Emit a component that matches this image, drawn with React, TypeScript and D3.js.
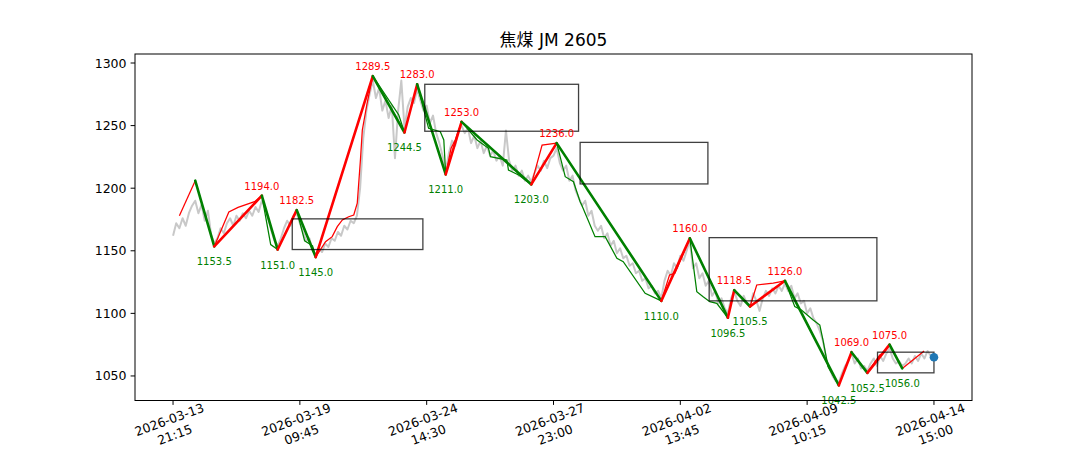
import React from "react";
import * as d3 from "d3";

// ---------- data ----------
const closePrices: number[] = [
  1162, 1172, 1168, 1176, 1170, 1180, 1186, 1190,
  1180, 1187, 1174, 1182, 1163, 1156,
  1160, 1168, 1164, 1172, 1176, 1170, 1178, 1174, 1180, 1176, 1182, 1178, 1185, 1181, 1190,
  1184, 1176, 1166, 1158, 1154,
  1160, 1168, 1174, 1170, 1178, 1180,
  1172, 1165, 1158, 1160, 1150, 1147,
  1152, 1149, 1156, 1153, 1160, 1158, 1165, 1162, 1170, 1167, 1174, 1172, 1178,
  1200, 1240, 1262, 1275, 1286,
  1272, 1280, 1262, 1270, 1256, 1266, 1224, 1262, 1286,
  1248, 1265, 1272, 1268, 1279,
  1270, 1262, 1266, 1252, 1258, 1244, 1236, 1226, 1214,
  1228, 1238, 1234, 1246, 1250,
  1244, 1248, 1236, 1242, 1232, 1238, 1228, 1234, 1226, 1230, 1222, 1226, 1218, 1246, 1222, 1214, 1218, 1210, 1214, 1206, 1210, 1205,
  1212, 1218, 1214, 1222, 1216, 1224, 1226, 1232,
  1220, 1214, 1218, 1206, 1210, 1198, 1192, 1186, 1190, 1178, 1182, 1170, 1166, 1170, 1160, 1164, 1154, 1158, 1148, 1152, 1144, 1146, 1138, 1140, 1132, 1134, 1126, 1128, 1120, 1122, 1116, 1118, 1112,
  1126, 1134, 1130, 1140, 1136, 1146, 1142, 1150, 1158,
  1136, 1140, 1128, 1132, 1122, 1126, 1114, 1118, 1108, 1112, 1104, 1100,
  1112, 1118, 1110, 1106, 1114, 1108, 1106, 1116, 1110, 1102, 1112, 1118, 1114, 1120, 1116, 1122, 1118, 1124,
  1118, 1122, 1112, 1116, 1108, 1110, 1100, 1104, 1096, 1092, 1086, 1078, 1064, 1056, 1050, 1046, 1045,
  1052, 1058, 1062, 1068, 1060, 1064, 1056, 1058, 1054, 1060, 1064, 1058, 1066, 1062, 1068, 1072, 1064, 1060, 1062, 1058, 1060, 1064, 1060, 1066, 1062, 1068, 1064, 1070, 1066, 1065,
];

const pivotIdx: number[] = [7, 13, 28, 33, 39, 45, 63, 73, 77, 86, 91, 113, 121, 154, 163, 175, 177, 182, 193, 210, 214, 219, 226, 230];
const pivotVal: number[] = [1206, 1153.5, 1194, 1151, 1182.5, 1145, 1289.5, 1244.5, 1283, 1211, 1253, 1203, 1236, 1110, 1160, 1096.5, 1118.5, 1105.5, 1126, 1042.5, 1069, 1052.5, 1075, 1056];

const thinUp: [number, number][][] = [
  [[2, 1178], [7, 1206]],
  [[13, 1153.5], [17.6, 1181], [20.5, 1184.7], [25.7, 1189.2], [28, 1194]],
  [[45, 1145], [48.1, 1157.3], [50.2, 1161.3], [51.8, 1169.3], [53.4, 1174.6], [55.4, 1177.2], [57, 1178.6], [58.1, 1188], [59.1, 1222.5], [59.7, 1246.5], [61.2, 1267.8], [63, 1289.5]],
  [[86, 1211], [87.7, 1231.9], [89, 1238.5], [91, 1253]],
  [[113, 1203], [116.4, 1234.5], [121, 1236]],
  [[154, 1110], [156.6, 1130.7], [158.3, 1132], [163, 1160]],
  [[182, 1105.5], [184.1, 1122.7], [189.3, 1124.1], [193, 1126]],
  [[219, 1052.5], [222.9, 1066.8], [224.1, 1068.4], [226, 1075]],
  [[230, 1056], [236.9, 1070]],
];

const thinDown: [number, number][][] = [
  [[28, 1194], [30.8, 1155], [33, 1151]],
  [[39, 1182.5], [41.5, 1158], [44, 1154], [45, 1145]],
  [[63, 1289.5], [71.2, 1258.5], [73, 1244.5]],
  [[77, 1283], [80.6, 1247.8], [84.3, 1245.1], [85.4, 1238.5], [86, 1211]],
  [[91, 1253], [95.9, 1238.5], [99.5, 1231.9], [100.1, 1225.2], [105.3, 1222.5], [105.8, 1214.5], [109, 1210.5], [113, 1203]],
  [[121, 1236], [123.7, 1209.2], [126.3, 1205.2], [128.4, 1189.2], [128.9, 1186.6], [133.1, 1161.3], [136.3, 1161.3], [140, 1144], [142, 1141.3], [148.9, 1116], [154, 1110]],
  [[163, 1160], [165.2, 1117.3], [167.2, 1113.3], [169.3, 1109.3], [171.5, 1108], [175, 1096.5]],
  [[193, 1126], [196.1, 1105.4], [198.2, 1102.7], [201.9, 1094.7], [204, 1090.7], [205, 1078.7], [206.6, 1057.4], [210, 1042.5]],
];

// boxes: [startIdx, endIdx, low, high]
const boxes: [number, number, number, number][] = [
  [37.6, 78.8, 1151, 1175.5],
  [79.4, 127.9, 1245.5, 1283],
  [128.4, 168.7, 1203.4, 1236.6],
  [169.1, 222, 1110, 1160.5],
  [222.2, 240, 1052.5, 1069],
];

const xTickIdx: number[] = [0, 40, 80, 120, 160, 200, 240];
const xTickLabels: string[][] = [
  ["2026-03-13", "21:15"],
  ["2026-03-19", "09:45"],
  ["2026-03-24", "14:30"],
  ["2026-03-27", "23:00"],
  ["2026-04-02", "13:45"],
  ["2026-04-09", "10:15"],
  ["2026-04-14", "15:00"],
];
const yTicks: number[] = [1050, 1100, 1150, 1200, 1250, 1300];
const title = "焦煤 JM 2605";

// ---------- chart ----------
const W = 1080;
const H = 450;
const L = 135, R = 972, T = 54, B = 400.5;
const FONT = "'DejaVu Sans', 'Noto Sans CJK SC', sans-serif";
const RED = "#ff0000";
const GREEN = "#008000";

export default function App() {
  const n = closePrices.length - 1;
  const pad = n * 0.05;
  const x = d3.scaleLinear().domain([-pad, n + pad]).range([L, R]);
  const y = d3.scaleLinear().domain([1030.4, 1307.2]).range([B, T]);

  const line = d3
    .line<[number, number]>()
    .x((d) => x(d[0]))
    .y((d) => y(d[1]));

  const closePts: [number, number][] = closePrices.map((v, i) => [i, v]);

  const thickSegs: { pts: [number, number][]; up: boolean }[] = [];
  for (let i = 1; i < pivotIdx.length; i++) {
    thickSegs.push({
      pts: [
        [pivotIdx[i - 1], pivotVal[i - 1]],
        [pivotIdx[i], pivotVal[i]],
      ],
      up: pivotVal[i] > pivotVal[i - 1],
    });
  }

  const last = closePts[closePts.length - 1];

  return (
    <svg
      width={W}
      height={H}
      style={{ position: "absolute", left: 0, top: 0, background: "#fff" }}
      fontFamily={FONT}
    >
      <rect x={0} y={0} width={W} height={H} fill="#fff" />
      {/* close line */}
      <path d={line(closePts) || ""} fill="none" stroke="#c8c8c8" strokeWidth={2} strokeLinejoin="round" />
      {/* thin lines */}
      {thinUp.map((s, i) => (
        <path key={"tu" + i} d={line(s) || ""} fill="none" stroke={RED} strokeWidth={1.25} />
      ))}
      {thinDown.map((s, i) => (
        <path key={"td" + i} d={line(s) || ""} fill="none" stroke={GREEN} strokeWidth={1.25} />
      ))}
      {/* thick zigzag */}
      {thickSegs.map((s, i) => (
        <path
          key={"tk" + i}
          d={line(s.pts) || ""}
          fill="none"
          stroke={s.up ? RED : GREEN}
          strokeWidth={2.6}
          strokeLinecap="round"
        />
      ))}
      {/* boxes */}
      {boxes.map((b, i) => (
        <rect
          key={"bx" + i}
          x={x(b[0])}
          y={y(b[3])}
          width={x(b[1]) - x(b[0])}
          height={y(b[2]) - y(b[3])}
          fill="none"
          stroke="#000"
          strokeOpacity={0.75}
          strokeWidth={1.3}
        />
      ))}
      {/* pivot labels */}
      {pivotIdx.map((p, i) => {
        if (i === 0) return null;
        const isPeak =
          (i > 0 && pivotVal[i] > pivotVal[i - 1]) ||
          (i < pivotIdx.length - 1 && pivotVal[i] > pivotVal[i + 1]);
        return (
          <text
            key={"lb" + i}
            x={x(p)}
            y={isPeak ? y(pivotVal[i]) - 6 : y(pivotVal[i]) + 19}
            textAnchor="middle"
            fontSize={10}
            fill={isPeak ? RED : GREEN}
          >
            {pivotVal[i].toFixed(1)}
          </text>
        );
      })}
      {/* last point */}
      <circle cx={x(last[0])} cy={y(last[1])} r={4.3} fill="#1f77b4" />
      {/* spines */}
      <rect x={L} y={T} width={R - L} height={B - T} fill="none" stroke="#000" strokeWidth={1} />
      {/* y ticks */}
      {yTicks.map((t) => (
        <g key={"yt" + t}>
          <line x1={L - 4.4} x2={L} y1={y(t)} y2={y(t)} stroke="#000" strokeWidth={1} />
          <text x={L - 8.5} y={y(t)} textAnchor="end" dominantBaseline="central" fontSize={12.5} fill="#000">
            {t}
          </text>
        </g>
      ))}
      {/* x ticks */}
      {xTickIdx.map((t, i) => (
        <g key={"xt" + t}>
          <line x1={x(t)} x2={x(t)} y1={B} y2={B + 4.4} stroke="#000" strokeWidth={1} />
          <g transform={`translate(${x(t) - 1},${427}) rotate(-20)`}>
            <text x={0} y={-8} textAnchor="middle" dominantBaseline="central" fontSize={12.5} fill="#000">
              {xTickLabels[i][0]}
            </text>
            <text x={0} y={8} textAnchor="middle" dominantBaseline="central" fontSize={12.5} fill="#000">
              {xTickLabels[i][1]}
            </text>
          </g>
        </g>
      ))}
      {/* title */}
      <text x={(L + R) / 2} y={T - 8} textAnchor="middle" fontSize={17} fill="#000">
        {title}
      </text>
    </svg>
  );
}
